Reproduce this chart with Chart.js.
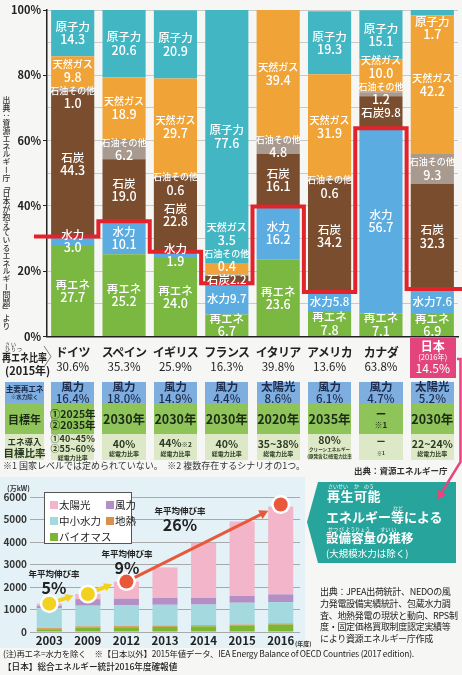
<!DOCTYPE html>
<html lang="ja">
<head>
<meta charset="utf-8">
<script src="https://cdn.jsdelivr.net/npm/chart.js@4.4.1/dist/chart.umd.min.js"></script>
<style>
  html, body { margin: 0; padding: 0; }
  body {
    width: 462px; height: 675px; position: relative; overflow: hidden;
    background: #f6f6f4; color: #222;
    font-family: "Noto Sans CJK JP", "Noto Sans", sans-serif;
  }
  .abs { position: absolute; }
  .cell { position: absolute; display: flex; flex-direction: column; justify-content: center; align-items: center; text-align: center; white-space: nowrap; font-weight: bold; }
  small { font-size: 0.62em; }
</style>
</head>
<body>

<!-- 背景パネル（下のグラフ） -->
<div class="abs" style="left:0;top:477px;width:305px;height:171px;background:#e4f1f6"></div>

<canvas id="mixChart" class="abs" width="462" height="345" style="left:0;top:0"></canvas>
<canvas id="capChart" class="abs" width="310" height="172" style="left:0;top:480px"></canvas>

<div id="overlay"></div>

<svg class="abs" width="462" height="675" style="left:0;top:0;pointer-events:none">
  <polyline points="44,346 51,356.5 44,367" fill="none" stroke="#777" stroke-width="1"/>
  <path d="M457,359 H460.5 V462 L440,495" fill="none" stroke="#e6457f" stroke-width="2.5"/>
  <polygon points="437,500 446,495 437.6,489.5" fill="#e6457f"/>
</svg>

<script>
// ===== 電源構成（2015年、日本は2016年） =====
const countries = ['ドイツ', 'スペイン', 'イギリス', 'フランス', 'イタリア', 'アメリカ', 'カナダ', '日本'];
const renewables = [27.7, 25.2, 24.0, 6.7, 23.6, 7.8, 7.1, 6.9];
const hydro      = [3.0, 10.1, 1.9, 9.7, 16.2, 5.8, 56.7, 7.6];
const coal       = [44.3, 19.0, 22.8, 2.2, 16.1, 34.2, 9.8, 32.3];
const oilOther   = [1.0, 6.2, 0.6, 0.4, 4.8, 0.6, 1.2, 9.3];
const naturalGas = [9.8, 18.9, 29.7, 3.5, 39.4, 31.9, 10.0, 42.2];
const nuclear    = [14.3, 20.6, 20.9, 77.6, 0, 19.3, 15.1, 1.7];
const renewRatio = [30.6, 35.3, 25.9, 16.3, 39.8, 13.6, 63.8, 14.5];

// 表の中身
const mainSource  = ['風力', '風力', '風力', '風力', '太陽光', '風力', '風力', '太陽光'];
const mainShare   = [16.4, 18.0, 14.9, 4.4, 8.6, 6.1, 4.7, 5.2];
const targetYear  = [['①2025年', '②2035年'], ['2030年'], ['2030年'], ['2030年'], ['2020年'], ['2035年'], ['ー', '※1'], ['2030年']];
const targetShare = [['①40~45%', '②55~60%'], ['40%'], ['44%※2'], ['40%'], ['35~38%'], ['80%'], ['ー', '※1'], ['22~24%']];
const targetNote  = [['総電力比率'], ['総電力比率'], ['総電力比率'], ['総電力比率'], ['総電力比率'], ['クリーンエネルギー', '(原発含む)総電力比率'], [], ['総電力比率']];

// ===== 再エネ等の設備容量（万kW） =====
const years      = ['2003', '2009', '2012', '2013', '2014', '2015', '2016'];
const biomass    = [120, 200, 210, 230, 250, 280, 330];
const geothermal = [50, 50, 50, 50, 50, 50, 50];
const smallHydro = [880, 920, 920, 930, 920, 970, 950];
const wind       = [120, 290, 300, 300, 300, 300, 340];
const solar      = [90, 230, 760, 1360, 2450, 3310, 3910];
const growthRates = ['5%', '9%', '26%'];

const FONT = '"Noto Sans CJK JP", "Noto Sans", sans-serif';

// =============================================================
//      上のグラフ：電源構成
// =============================================================

// 赤い段差線（再エネ比率）
const ratioLine = {
  id: 'ratioLine',
  afterDatasetsDraw(chart) {
    const { ctx, chartArea } = chart;
    const xs = chart.scales.x, ys = chart.scales.y;
    const half = (xs.getPixelForValue(1) - xs.getPixelForValue(0)) / 2;
    ctx.save();
    ctx.beginPath();
    renewRatio.forEach((r, i) => {
      const cx = xs.getPixelForValue(i);
      const x0 = i === 0 ? chartArea.left - 13 : cx - half;
      const x1 = i === renewRatio.length - 1 ? chart.width : cx + half;
      const y = ys.getPixelForValue(r);
      if (i === 0) ctx.moveTo(x0, y); else ctx.lineTo(x0, y);
      ctx.lineTo(x1, y);
    });
    ctx.strokeStyle = '#e3232c';
    ctx.lineWidth = 4;
    ctx.stroke();
    ctx.restore();
  }
};

// 棒の中の白い文字
const segmentLabels = {
  id: 'segmentLabels',
  afterDatasetsDraw(chart) {
    const { ctx, chartArea } = chart;
    const lineH = 13;
    ctx.save();
    ctx.fillStyle = '#fff';
    ctx.textAlign = 'center';
    ctx.textBaseline = 'middle';
    chart.data.labels.forEach((_, i) => {
      let floor = chartArea.bottom + 2;
      chart.data.datasets.forEach((ds, d) => {
        const v = ds.data[i];
        if (!v) return;
        const bar = chart.getDatasetMeta(d).data[i];
        const name = ds.label;
        const val = v.toFixed(1);
        const single = name.length <= 2 && v < 10 && !(name === '水力' && v < 5);
        const lines = single ? [name + val] : [name, val];
        const h = lines.length * lineH;
        let cy = (bar.y + bar.base) / 2;
        // 細い「石油その他」は少し下にずらす
        if (name.length >= 5 && bar.base - bar.y < 12) cy += 7;
        if (cy + h / 2 > floor) cy = floor - h / 2;
        if (cy - h / 2 < chartArea.top + 5) cy = chartArea.top + 5 + h / 2;
        lines.forEach((t, k) => {
          const y = cy - h / 2 + lineH / 2 + k * lineH;
          let size = 12.5;
          if (single) size = 11.5;
          else if (k === 0) size = name.length >= 5 ? 9 : name.length === 4 ? 10 : 11.5;
          ctx.font = `500 ${size}px ${FONT}`;
          ctx.fillText(t, bar.x, y);
        });
        floor = cy - h / 2;
      });
    });
    ctx.restore();
  }
};

const mixSeries = [
  { label: '再エネ', data: renewables, color: '#7ab842' },
  { label: '水力', data: hydro, color: '#5aace1' },
  { label: '石炭', data: coal, color: '#794d2e' },
  { label: '石油その他', data: oilOther, color: '#a89a8e' },
  { label: '天然ガス', data: naturalGas, color: '#f0a438' },
  { label: '原子力', data: nuclear, color: '#42b7c3' }
];

const mixChart = new Chart(document.getElementById('mixChart'), {
  type: 'bar',
  data: {
    labels: countries,
    datasets: mixSeries.map(s => ({
      label: s.label,
      data: s.data,
      backgroundColor: s.color,
      borderWidth: 0,
      barPercentage: 0.84,
      categoryPercentage: 1
    }))
  },
  options: {
    responsive: false,
    animation: false,
    layout: { padding: { top: 10, right: 4, bottom: 8, left: 0 } },
    plugins: { legend: { display: false }, tooltip: { enabled: false } },
    scales: {
      x: {
        stacked: true,
        grid: { display: false, drawTicks: false },
        ticks: { display: false },
        border: { color: '#222', width: 1.5 }
      },
      y: {
        stacked: true,
        min: 0,
        max: 100,
        afterFit: s => { s.width = 47; },
        ticks: {
          stepSize: 10,
          padding: 2,
          color: '#222',
          font: { family: FONT, size: 11, weight: 'bold' },
          callback: v => (v % 20 === 0 ? v + '%' : '')
        },
        grid: {
          color: '#c9c9c9',
          tickLength: 4,
          tickColor: c => (c.tick.value % 20 === 0 ? '#222' : 'rgba(0,0,0,0)')
        },
        border: { color: '#222', width: 1.5 }
      }
    }
  },
  plugins: [ratioLine, segmentLabels]
});

// =============================================================
//      下のグラフ：設備容量の推移
// =============================================================
const totals = years.map((_, i) => biomass[i] + geothermal[i] + smallHydro[i] + wind[i] + solar[i]);

function arrowTo(ctx, x0, y0, x1, y1, color, w, head) {
  const a = Math.atan2(y1 - y0, x1 - x0);
  ctx.strokeStyle = color;
  ctx.fillStyle = color;
  ctx.lineWidth = w;
  ctx.beginPath();
  ctx.moveTo(x0, y0);
  ctx.lineTo(x1 - Math.cos(a) * head * 0.8, y1 - Math.sin(a) * head * 0.8);
  ctx.stroke();
  ctx.beginPath();
  ctx.moveTo(x1, y1);
  ctx.lineTo(x1 - head * Math.cos(a - 0.5), y1 - head * Math.sin(a - 0.5));
  ctx.lineTo(x1 - head * Math.cos(a + 0.5), y1 - head * Math.sin(a + 0.5));
  ctx.closePath();
  ctx.fill();
}

function dot(ctx, x, y, color) {
  ctx.fillStyle = '#fff';
  ctx.beginPath(); ctx.arc(x, y, 9.5, 0, Math.PI * 2); ctx.fill();
  ctx.fillStyle = color;
  ctx.beginPath(); ctx.arc(x, y, 7, 0, Math.PI * 2); ctx.fill();
}

const growthMarks = {
  id: 'growthMarks',
  afterDatasetsDraw(chart) {
    const { ctx } = chart;
    const xs = chart.scales.x, ys = chart.scales.y;
    const p = i => ({ x: xs.getPixelForValue(i), y: ys.getPixelForValue(totals[i]) });
    const last = years.length - 1;
    ctx.save();
    // 黄色の矢印（2003→2009→2012）
    [0, 1].forEach(i => {
      const a = p(i), b = p(i + 1);
      const ex = a.x + (b.x - a.x) * 0.63, ey = a.y + (b.y - a.y) * 0.63 - 2;
      arrowTo(ctx, a.x, a.y, ex, ey, '#f3d21f', 4, 9);
      dot(ctx, a.x, a.y, '#f3d21f');
    });
    // 赤い矢印（2012→2016）
    const s = p(2), e = p(last);
    const ey = e.y - 2;
    const len = Math.hypot(e.x - s.x, ey - s.y);
    const tx = e.x - (e.x - s.x) / len * 14, ty = ey - (ey - s.y) / len * 14;
    arrowTo(ctx, s.x, s.y, tx, ty, '#e8593c', 3, 10);
    dot(ctx, s.x, s.y, '#e8593c');
    dot(ctx, e.x, ey, '#e8593c');
    ctx.restore();
  }
};

const capSeries = [
  { label: 'バイオマス', data: biomass, color: '#7bb731' },
  { label: '地熱', data: geothermal, color: '#d9904a' },
  { label: '中小水力', data: smallHydro, color: '#a3d9df' },
  { label: '風力', data: wind, color: '#b48fc6' },
  { label: '太陽光', data: solar, color: '#f3b5c9' }
];

const capChart = new Chart(document.getElementById('capChart'), {
  type: 'bar',
  data: {
    labels: years,
    datasets: capSeries.map(s => ({
      label: s.label,
      data: s.data,
      backgroundColor: s.color,
      borderWidth: 0,
      barPercentage: 0.65,
      categoryPercentage: 1
    }))
  },
  options: {
    responsive: false,
    animation: false,
    layout: { padding: { top: 17, right: 10, bottom: 20, left: 0 } },
    plugins: { legend: { display: false }, tooltip: { enabled: false } },
    scales: {
      x: {
        stacked: true,
        grid: { display: false, drawTicks: false },
        border: { display: false },
        ticks: { display: false }
      },
      y: {
        stacked: true,
        min: 0,
        max: 6000,
        afterFit: s => { s.width = 30; },
        ticks: {
          stepSize: 1000, padding: 3, color: '#333',
          font: { family: FONT, size: 10, weight: 'bold' },
          callback: v => String(v)
        },
        grid: { color: '#a9a9a9', drawTicks: false },
        border: { display: false }
      }
    }
  },
  plugins: [growthMarks]
});

// =============================================================
//      テキスト類（HTML）
// =============================================================
const overlay = document.getElementById('overlay');
function put(html, css) {
  const el = document.createElement('div');
  el.className = 'abs';
  el.innerHTML = html;
  el.style.cssText += css;
  overlay.appendChild(el);
  return el;
}
const smallMarks = t => t.replace(/(※\d)/g, '<small>$1</small>');

// 縦書きの出典
put('出典：資源エネルギー庁「日本が抱えているエネルギー問題」より',
  'left:2px;top:96px;writing-mode:vertical-rl;font-size:7.8px;line-height:1;color:#333;font-weight:500;');

// 再エネ比率の見出し
put('<div style="font-size:5px;line-height:5px;letter-spacing:1px;text-align:left;padding-left:3px">さい　　　　ひりつ</div>' +
    '<div style="font-size:11.5px;font-weight:bold;line-height:13px;white-space:nowrap;transform:scaleX(0.78);transform-origin:left center">再エネ比率</div>' +
    '<div style="font-size:11px;font-weight:bold;line-height:13px;white-space:nowrap;padding-left:3px">(2015年)</div>',
  'left:2px;top:341px;width:44px;');

const xs = mixChart.scales.x;
const barW = mixChart.getDatasetMeta(0).data[0].width;
const lastIdx = countries.length - 1;

countries.forEach((name, i) => {
  const cx = xs.getPixelForValue(i);
  const left = cx - barW / 2;
  if (i < lastIdx) {
    put(`<div style="font-size:12px;font-weight:bold;line-height:15px;letter-spacing:-0.6px">${name}</div><div style="font-size:11.5px;line-height:14px">${renewRatio[i].toFixed(1)}%</div>`,
      `left:${cx - 30}px;top:344px;width:60px;text-align:center;white-space:nowrap;`);
  } else {
    put(`<div style="font-size:12px;font-weight:bold;line-height:13px">${name}</div><div style="font-size:7.5px;line-height:9px">(2016年)</div><div style="font-size:12px;line-height:14px">${renewRatio[i].toFixed(1)}%</div>`,
      `left:${left - 1}px;top:338px;width:${barW + 3}px;height:40px;background:#e4447c;color:#fff;text-align:center;padding-top:1px;box-sizing:border-box;`);
  }
  // 主要再エネ
  const r1 = put(`<div style="line-height:11px">${mainSource[i]}</div><div style="line-height:12px;font-weight:500">${mainShare[i].toFixed(1)}%</div>`,
    `left:${left}px;top:382px;width:${barW}px;height:21px;background:#7eaee0;color:#1c2b4a;font-size:11.5px;`);
  r1.className = 'cell';
  // 目標年
  const ty = targetYear[i];
  const r2 = put(ty.map(t => `<div style="line-height:${ty.length > 1 ? 11 : 14}px;font-size:${ty.length > 1 ? (t === '※1' ? 8 : 10.5) : 12.5}px">${t}</div>`).join(''),
    `left:${left}px;top:403px;width:${barW}px;height:31px;background:#8fc45a;color:#1e2a18;`);
  r2.className = 'cell';
  // 目標比率
  const ts = targetShare[i];
  const nt = targetNote[i];
  const r3 = put(ts.map(t => `<div style="line-height:${ts.length > 1 ? 10 : 12}px;font-size:${t === '※1' ? 8 : ts.length > 1 ? 9 : 10.5}px">${smallMarks(t)}</div>`).join('') +
      nt.map(t => `<div style="line-height:7px;font-size:${t.length > 6 ? 4.6 : 6}px">${t}</div>`).join(''),
    `left:${left}px;top:434px;width:${barW}px;height:26px;background:#dde8c6;color:#2b3a22;`);
  r3.className = 'cell';
});

// 表の左見出し
const h1 = put('<div style="font-size:7.8px;line-height:10px;letter-spacing:-0.3px">主要再エネ</div><div style="font-size:5.5px;line-height:7px">※水力除く</div>',
  'left:5px;top:382px;width:39px;height:21px;background:#7eaee0;color:#1c2b4a;');
h1.className = 'cell';
const h2 = put('<div style="font-size:11px">目標年</div>',
  'left:5px;top:403px;width:39px;height:31px;background:#8fc45a;color:#1e2a18;');
h2.className = 'cell';
const h3 = put('<div style="font-size:8.5px;line-height:10px">エネ導入</div><div style="font-size:10.5px;line-height:13px">目標比率</div>',
  'left:5px;top:434px;width:39px;height:26px;background:#dde8c6;color:#2b3a22;');
h3.className = 'cell';

put('※1 国家レベルでは定められていない。　※2 複数存在するシナリオの1つ。',
  'left:3px;top:460px;font-size:9px;line-height:12px;white-space:nowrap;color:#333;');
put('出典：資源エネルギー庁', 'left:354px;top:464px;font-size:8.5px;font-weight:bold;white-space:nowrap;color:#333;');

// 下のグラフの年ラベル
const cxs = capChart.scales.x;
years.forEach((y, i) => {
  put(y, `left:${cxs.getPixelForValue(i) - 20}px;top:632px;width:40px;text-align:center;font-size:11.5px;font-weight:bold;color:#222;`);
});
put('(年度)', 'left:295px;top:639px;font-size:6px;font-weight:bold;color:#333;');

// 凡例
const legendItems = [
  ['太陽光', '#f3b5c9', 50, 499], ['風力', '#b48fc6', 106, 499],
  ['中小水力', '#a3d9df', 50, 515], ['地熱', '#d9904a', 106, 515],
  ['バイオマス', '#7bb731', 50, 531]
];
put('', 'left:44px;top:492px;width:88px;height:52px;background:#fff;border:1px solid #555;box-sizing:border-box;');
legendItems.forEach(([t, c, x, y]) => {
  put(`<span style="display:inline-block;width:8px;height:8px;background:${c};margin-right:1px"></span>${t}`,
    `left:${x}px;top:${y}px;font-size:10.5px;line-height:12px;white-space:nowrap;color:#222;`);
});
put('(万kW)', 'left:7px;top:483px;font-size:7px;font-weight:bold;color:#333;');

// 年平均伸び率
const growthPos = [[54, 568], [127, 548], [180, 505]];
growthRates.forEach((g, i) => {
  const [x, y] = growthPos[i];
  put(`<div style="font-size:8.5px;font-weight:bold;line-height:11px">年平均伸び率</div><div style="font-size:16px;font-weight:bold;line-height:17px">${g}</div>`,
    `left:${x - 30}px;top:${y}px;width:60px;text-align:center;white-space:nowrap;color:#222;`);
});

// 青緑の見出しボックス
put('', 'left:307px;top:482px;width:149px;height:81px;background:#27a59c;clip-path:polygon(11px 0,100% 0,100% 100%,11px 100%,0 40px);');
put('さいせい　 か　のう', 'left:328px;top:482px;font-size:5px;color:#fff;white-space:nowrap;');
put('再生可能', 'left:327px;top:486px;font-size:13px;font-weight:bold;color:#fff;letter-spacing:0.5px;white-space:nowrap;');
put('など', 'left:393px;top:504px;font-size:5px;color:#fff;');
put('エネルギー等による', 'left:326px;top:507px;font-size:13px;font-weight:bold;color:#fff;white-space:nowrap;');
put('せつ び ようりょう　　すい い', 'left:328px;top:525px;font-size:5px;color:#fff;white-space:nowrap;');
put('設備容量の推移', 'left:326px;top:528px;font-size:12.5px;font-weight:bold;color:#fff;white-space:nowrap;');
put('(大規模水力は除く)', 'left:326px;top:546px;font-size:9.5px;color:#fff;white-space:nowrap;');

// 出典（右下）
put('出典：JPEA出荷統計、NEDOの風<br>力発電設備実績統計、包蔵水力調<br>査、地熱発電の現状と動向、RPS制<br>度・固定価格買取制度認定実績等<br>により資源エネルギー庁作成',
  'left:320px;top:586px;font-size:9px;line-height:11.8px;white-space:nowrap;color:#222;letter-spacing:-0.3px;');

// 注記
put('(注)再エネ=水力を除く　※【日本以外】2015年値データ、IEA Energy Balance of OECD Countries (2017 edition).',
  'left:3px;top:647px;font-size:8.4px;line-height:12px;white-space:nowrap;color:#222;letter-spacing:-0.2px;');
put('【日本】総合エネルギー統計2016年度確報値',
  'left:3px;top:660px;font-size:8.6px;line-height:12px;white-space:nowrap;color:#222;font-weight:500;');
</script>
</body>
</html>
